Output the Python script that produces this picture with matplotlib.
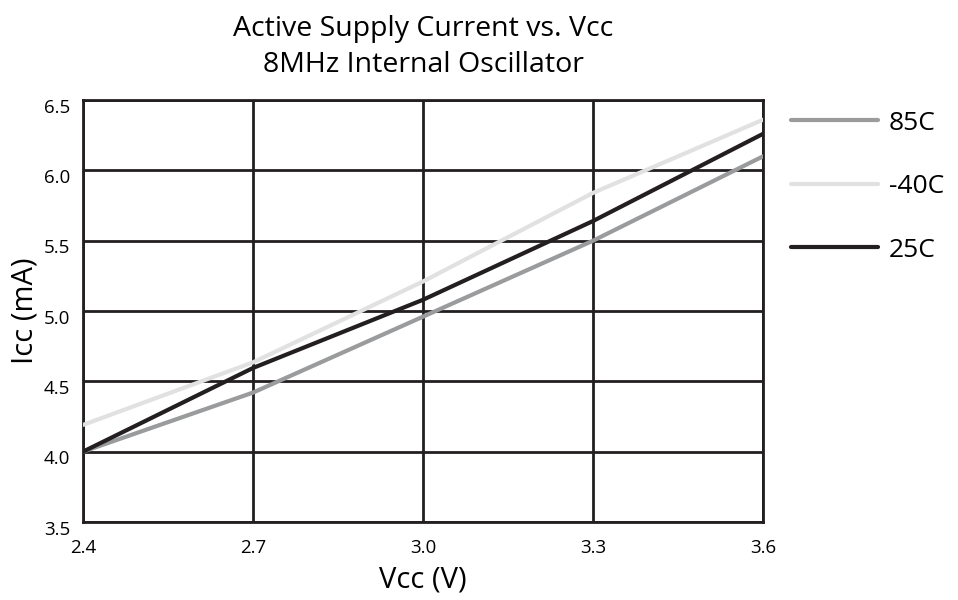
import matplotlib
matplotlib.use("Agg")
import matplotlib.pyplot as plt
import matplotlib.transforms as mtrans

plt.rcParams["font.family"] = ["Open Sans", "DejaVu Sans"]

# ── Data ────────────────────────────────────────────────────────────────────
vcc = [2.4, 2.7, 3.0, 3.3, 3.6]
icc_85c = [4.00, 4.42, 4.96, 5.50, 6.10]
icc_m40c = [4.19, 4.635, 5.21, 5.84, 6.36]
icc_25c = [4.00, 4.595, 5.08, 5.64, 6.26]

series = [("85C", icc_85c, "#9a9b9d"),
          ("-40C", icc_m40c, "#e1e1e1"),
          ("25C", icc_25c, "#231f20")]

xticks = [2.4, 2.7, 3.0, 3.3, 3.6]
yticks = [3.5, 4.0, 4.5, 5.0, 5.5, 6.0, 6.5]

GRID = "#231f20"

fig = plt.figure(figsize=(9.58, 6.0), dpi=100)
ax = fig.add_axes([0.0866, 0.13, 0.71, 0.7033])

for label, vals, col in series:
    ax.plot(vcc, vals, color=col, lw=3.0, label=label, solid_capstyle="round",
            zorder=3)

ax.set_xlim(2.4, 3.6)
ax.set_ylim(3.5, 6.5)
ax.set_xticks(xticks)
ax.set_yticks(yticks)
ax.set_xticklabels([f"{v:.1f}" for v in xticks], fontsize=13.5)
ax.set_yticklabels([f"{v:.1f}" for v in yticks], fontsize=13.5)
ax.tick_params(axis="x", length=0, pad=12)
ax.tick_params(axis="y", length=0, pad=9)
# y labels sit a few pixels under their gridline in the original
off = mtrans.ScaledTranslation(0, -4 / 72, fig.dpi_scale_trans)
for t in ax.get_yticklabels():
    t.set_transform(t.get_transform() + off)

ax.grid(True, color=GRID, lw=2.0, zorder=1)
for sp in ax.spines.values():
    sp.set_color(GRID)
    sp.set_linewidth(2.0)

ax.set_xlabel("Vcc (V)", fontsize=21, labelpad=6)
ax.set_ylabel("Icc (mA)", fontsize=21, labelpad=0)
ax.yaxis.set_label_coords(-0.064, 0.5)
ax.set_title("Active Supply Current vs. Vcc\n8MHz Internal Oscillator",
             fontsize=20.5, pad=20, linespacing=1.38)

leg = ax.legend(loc="upper left", bbox_to_anchor=(1.026, 1.0), frameon=False,
                fontsize=19, handlelength=3.3, handletextpad=0.4,
                labelspacing=1.46, borderaxespad=0)

fig.savefig("out.png", dpi=100)
